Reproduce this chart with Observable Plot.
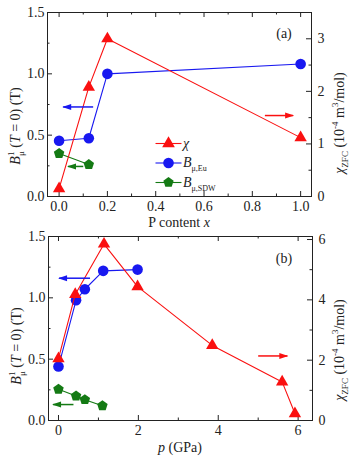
<!DOCTYPE html>
<html><head><meta charset="utf-8">
<script src="https://cdn.jsdelivr.net/npm/d3@7"></script>
<script src="https://cdn.jsdelivr.net/npm/@observablehq/plot@0.6"></script>
<style>
body{margin:0;background:#fff;}
#chart{width:352px;height:457px;}
#chart svg{display:block;overflow:visible;}
</style></head><body><div id="chart"></div>
<script>
// ---------- Panel (a): P content x ----------
const xA_chi = [0, 0.123, 0.2, 1.0];
const chiA   = [0.15, 2.08, 3.0, 1.12];        // right axis, 10^-4 m^3/mol
const xA_eu  = [0, 0.123, 0.2, 1.0];
const euA    = [0.455, 0.475, 1.0, 1.08];      // left axis, T
const xA_sdw = [0, 0.123];
const sdwA   = [0.35, 0.26];
const xTicksA = [0, 0.2, 0.4, 0.6, 0.8, 1.0];
const xMinorA = [0.1, 0.3, 0.5, 0.7, 0.9];
const rTicksA = [0, 1, 2, 3];
const rMinorA = [0.5, 1.5, 2.5];
const arrA_from = [0.141, 0.852, 0.100];
const arrA_to   = [0.017, 0.969, 0.037];
const arrA_y    = [0.73, 1.54, 0.245];
const arrA_ser  = ["eu", "chi", "sdw"];

// ---------- Panel (b): pressure p ----------
const xB_chi = [0, 0.42, 1.14, 1.98, 3.85, 5.6, 5.92];
const chiB   = [2.05, 4.18, 5.85, 4.44, 2.49, 1.28, 0.23];
const xB_eu  = [0, 0.44, 0.66, 1.12, 1.98];
const euB    = [0.44, 0.98, 1.07, 1.22, 1.23];
const xB_sdw = [0, 0.44, 0.66, 1.1];
const sdwB   = [0.255, 0.2, 0.17, 0.12];
const xTicksB = [0, 2, 4, 6];
const xMinorB = [1, 3, 5];
const rTicksB = [0, 2, 4, 6];
const rMinorB = [1, 3, 5];
const arrB_from = [0.79, 5.0, 0.375];
const arrB_to   = [0.015, 5.73, -0.135];
const arrB_y    = [1.16, 2.14, 0.13];
const arrB_ser  = ["eu", "chi", "sdw"];

// shared left axis
const yTicks = [0, 0.5, 1.0, 1.5];
const yMinor = [0.25, 0.75, 1.25];

const RED = "#fa1010", BLUE = "#1818f0", GREEN = "#147a14", INK = "#222";
const FONT = "Liberation Serif";

const pentagon = {draw(ctx, size) {
  const R = Math.sqrt(size / 2.3776);
  for (let i = 0; i < 5; i++) {
    const a = -Math.PI / 2 + i * 2 * Math.PI / 5;
    const px = R * Math.cos(a), py = R * Math.sin(a);
    if (i) ctx.lineTo(px, py); else ctx.moveTo(px, py);
  }
  ctx.closePath();
}};
const hline = {draw(ctx) { ctx.moveTo(-13, 0); ctx.lineTo(13, 0); }};
// filled arrowhead with its tip at the origin, pointing right
const head = {draw(ctx) { ctx.moveTo(1, 0); ctx.lineTo(-8, -3); ctx.lineTo(-8, 3); ctx.closePath(); }};

const zip = (xs, ys) => xs.map((x, i) => ({x, y: ys[i]}));

// inward ticks drawn as short rules inset from the frame
function axes(xt, xm, rt, rm, k, xfmt, fw, fh) {
  const T = 5, t = 2.5, o = {stroke: INK, strokeWidth: 1};
  const f = d => d;
  return [
    Plot.ruleX(xt, {...o, x: f, insetTop: fh - T}),
    Plot.ruleX(xt, {...o, x: f, insetBottom: fh - T}),
    Plot.ruleX(xm, {...o, x: f, insetTop: fh - t}),
    Plot.ruleX(xm, {...o, x: f, insetBottom: fh - t}),
    Plot.ruleY(yTicks, {...o, y: f, insetRight: fw - T}),
    Plot.ruleY(yMinor, {...o, y: f, insetRight: fw - t}),
    Plot.ruleY(rt.map(v => v * k), {...o, y: f, insetLeft: fw - T}),
    Plot.ruleY(rm.map(v => v * k), {...o, y: f, insetLeft: fw - t}),
    Plot.axisX(xt, {label: null, anchor: "bottom", tickSize: 0, tickPadding: 5, tickFormat: xfmt, fill: INK}),
    Plot.axisY(yTicks, {label: null, anchor: "left", tickSize: 0, tickPadding: 3, tickFormat: d3.format(".1f"), fill: INK}),
    Plot.axisY(rt.map(v => v * k), {label: null, anchor: "right", tickSize: 0, tickPadding: 6, tickFormat: d => String(Math.round(d / k)), fill: INK}),
    Plot.frame({stroke: INK})
  ];
}

function seriesMarks(xc, chi, xe, eu, xs, sdw, k, af, at, ay, as) {
  const colorOf = {eu: BLUE, chi: RED, sdw: GREEN};
  const arrows = af.map((f, i) => ({x1: f, x2: at[i], y: as[i] === "chi" ? ay[i] * k : ay[i], s: as[i]}));
  return [
    Plot.line(zip(xs, sdw), {x: "x", y: "y", stroke: GREEN, strokeWidth: 1.1}),
    Plot.dot(zip(xs, sdw), {x: "x", y: "y", symbol: pentagon, r: 4.8, fill: GREEN, stroke: "none"}),
    Plot.line(zip(xe, eu), {x: "x", y: "y", stroke: BLUE, strokeWidth: 1.1}),
    Plot.dot(zip(xe, eu), {x: "x", y: "y", symbol: "circle", r: 5.3, fill: BLUE, stroke: "none"}),
    Plot.line(zip(xc, chi.map(v => v * k)), {x: "x", y: "y", stroke: RED, strokeWidth: 1.1}),
    Plot.dot(zip(xc, chi.map(v => v * k)), {x: "x", y: "y", symbol: "triangle", r: 4.6, fill: RED, stroke: "none"}),
    Plot.link(arrows, {x1: "x1", x2: "x2", y1: "y", y2: "y", stroke: d => colorOf[d.s], strokeWidth: 1.5}),
    Plot.dot(arrows, {x: "x2", y: "y", symbol: head, fill: d => colorOf[d.s], stroke: "none", rotate: d => d.x2 > d.x1 ? 0 : 180})
  ];
}

const styleObj = {fontFamily: FONT, fontSize: "14px", color: INK, background: "transparent", overflow: "visible"};

const kA = 1.5 / 3.5;
const symbols = ["triangle", "circle", pentagon];
const lcolors = [RED, BLUE, GREEN];
const legendMarks = [];
[0, 1, 2].forEach(i => {
  const dy = 131 + i * 19.5;
  legendMarks.push(Plot.dot([i], {frameAnchor: "top-left", dx: 121, dy, symbol: hline, stroke: lcolors[i], fill: "none", strokeWidth: 1.1}));
  legendMarks.push(Plot.dot([i], {frameAnchor: "top-left", dx: 121, dy, symbol: symbols[i], r: i === 1 ? 5.3 : 4.7, fill: lcolors[i], stroke: "none"}));
});

const A = {w: 352, h: 230, ml: 47, mr: 41, mt: 12, mb: 34};
const plotA = Plot.plot({
  width: A.w, height: A.h,
  marginLeft: A.ml, marginRight: A.mr, marginTop: A.mt, marginBottom: A.mb,
  x: {domain: [-0.048, 1.045]},
  y: {domain: [0, 1.5]},
  style: styleObj,
  marks: [
    ...axes(xTicksA, xMinorA, rTicksA, rMinorA, kA, d3.format(".1f"), A.w - A.ml - A.mr, A.h - A.mt - A.mb),
    ...seriesMarks(xA_chi, chiA, xA_eu, euA, xA_sdw, sdwA, kA, arrA_from, arrA_to, arrA_y, arrA_ser),
    ...legendMarks
  ]
});

const kB = 1.5 / 6.1;
const B = {w: 352, h: 227, ml: 48, mr: 40, mt: 6, mb: 37};
const plotB = Plot.plot({
  width: B.w, height: B.h,
  marginLeft: B.ml, marginRight: B.mr, marginTop: B.mt, marginBottom: B.mb,
  x: {domain: [-0.25, 6.36]},
  y: {domain: [0, 1.5]},
  style: styleObj,
  marks: [
    ...axes(xTicksB, xMinorB, rTicksB, rMinorB, kB, d3.format("d"), B.w - B.ml - B.mr, B.h - B.mt - B.mb),
    ...seriesMarks(xB_chi, chiB, xB_eu, euB, xB_sdw, sdwB, kB, arrB_from, arrB_to, arrB_y, arrB_ser)
  ]
});

document.getElementById("chart").append(plotA, plotB);

function rich(svg, x, y, parts, {rotate = 0, anchor = "middle", size = 14} = {}) {
  const t = d3.select(svg).append("text")
    .attr("transform", `translate(${x},${y}) rotate(${rotate})`)
    .attr("text-anchor", anchor)
    .attr("font-family", FONT)
    .attr("font-size", size)
    .attr("fill", INK);
  let shift = 0;
  for (const [s, o = {}] of parts) {
    const sp = t.append("tspan").text(s);
    if (o.italic) sp.attr("font-style", "italic");
    if (o.size) sp.attr("font-size", o.size);
    const target = o.sub ? size * 0.32 : o.sup ? -size * 0.42 : 0;
    const dy = target - shift; shift = target;
    if (dy) sp.attr("dy", dy);
    if (o.dx) sp.attr("dx", o.dx);
  }
  return t;
}

const yLabelParts = [["B", {italic: true}], ["1", {sup: true, size: 9}], ["μ", {sub: true, size: 9, dx: -4.5}], [" ("], ["T", {italic: true}], [" = 0) (T)"]];
const rLabelParts = [["χ", {italic: true}], ["ZFC", {sub: true, size: 9}], [" (10"], ["-4", {sup: true, size: 9}], [" m"], ["3", {sup: true, size: 9}], ["/mol)"]];

// Panel (a) texts
rich(plotA, 20, 126, yLabelParts, {rotate: -90});
rich(plotA, 344, 123, rLabelParts, {rotate: -90});
rich(plotA, 179, 227, [["P content "], ["x", {italic: true}]]);
rich(plotA, 284, 38, [["(a)"]]);
rich(plotA, 183, 148, [["χ", {italic: true}]], {anchor: "start"});
rich(plotA, 183, 167, [["B", {italic: true}], ["μ,Eu", {sub: true, size: 8}]], {anchor: "start"});
rich(plotA, 183, 187, [["B", {italic: true}], ["μ,SDW", {sub: true, size: 8}]], {anchor: "start"});

// Panel (b) texts
rich(plotB, 21, 116, yLabelParts, {rotate: -90});
rich(plotB, 344, 120, rLabelParts, {rotate: -90});
rich(plotB, 180, 222, [["p", {italic: true}], [" (GPa)"]]);
rich(plotB, 284, 33, [["(b)"]]);
</script></body></html>
